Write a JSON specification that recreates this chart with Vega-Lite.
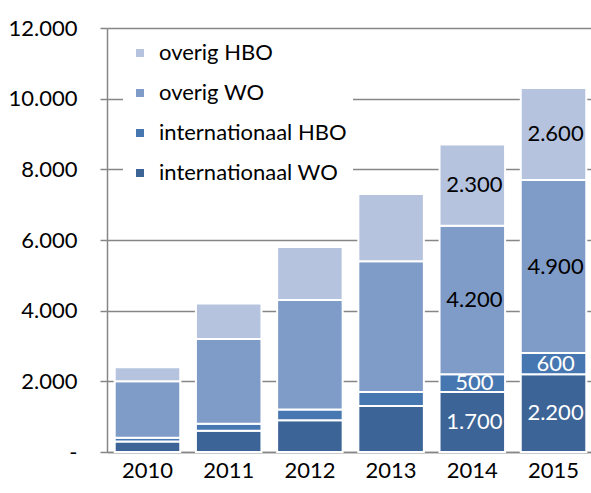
{
  "$schema": "https://vega.github.io/schema/vega-lite/v6.json",
  "width": 487,
  "height": 424,
  "autosize": {"type": "none"},
  "padding": {"left": 107, "top": 28, "right": 0, "bottom": 41},
  "config": {
    "locale": {"number": {"decimal": ",", "thousands": ".", "grouping": [3], "currency": ["€", ""]}},
    "view": {"stroke": null},
    "font": "Lato"
  },
  "data": {
    "values": [
      {"year": 2010, "series": "internationaal WO", "order": 1, "value": 300},
      {"year": 2010, "series": "internationaal HBO", "order": 2, "value": 100},
      {"year": 2010, "series": "overig WO", "order": 3, "value": 1600},
      {"year": 2010, "series": "overig HBO", "order": 4, "value": 400},
      {"year": 2011, "series": "internationaal WO", "order": 1, "value": 600},
      {"year": 2011, "series": "internationaal HBO", "order": 2, "value": 200},
      {"year": 2011, "series": "overig WO", "order": 3, "value": 2400},
      {"year": 2011, "series": "overig HBO", "order": 4, "value": 1000},
      {"year": 2012, "series": "internationaal WO", "order": 1, "value": 900},
      {"year": 2012, "series": "internationaal HBO", "order": 2, "value": 300},
      {"year": 2012, "series": "overig WO", "order": 3, "value": 3100},
      {"year": 2012, "series": "overig HBO", "order": 4, "value": 1500},
      {"year": 2013, "series": "internationaal WO", "order": 1, "value": 1300},
      {"year": 2013, "series": "internationaal HBO", "order": 2, "value": 400},
      {"year": 2013, "series": "overig WO", "order": 3, "value": 3700},
      {"year": 2013, "series": "overig HBO", "order": 4, "value": 1900},
      {"year": 2014, "series": "internationaal WO", "order": 1, "value": 1700},
      {"year": 2014, "series": "internationaal HBO", "order": 2, "value": 500},
      {"year": 2014, "series": "overig WO", "order": 3, "value": 4200},
      {"year": 2014, "series": "overig HBO", "order": 4, "value": 2300},
      {"year": 2015, "series": "internationaal WO", "order": 1, "value": 2200},
      {"year": 2015, "series": "internationaal HBO", "order": 2, "value": 600},
      {"year": 2015, "series": "overig WO", "order": 3, "value": 4900},
      {"year": 2015, "series": "overig HBO", "order": 4, "value": 2600}
    ]
  },
  "transform": [
    {"stack": "value", "groupby": ["year"], "sort": [{"field": "order"}], "as": ["v0", "v1"]},
    {"calculate": "(datum.v0 + datum.v1) / 2", "as": "mid"}
  ],
  "layer": [
    {
      "mark": {"type": "bar", "stroke": "white", "strokeWidth": 2},
      "encoding": {
        "x": {
          "field": "year", "type": "ordinal",
          "scale": {"paddingInner": 0.193, "paddingOuter": 0.095},
          "axis": {"title": null, "labelAngle": 0, "ticks": false, "domainColor": "#868686", "domainWidth": 1.5, "labelFontSize": 22, "labelColor": "black", "labelPadding": 8}
        },
        "y": {
          "field": "v1", "type": "quantitative",
          "scale": {"domain": [0, 12000], "nice": false},
          "axis": {
            "title": null,
            "values": [0, 2000, 4000, 6000, 8000, 10000, 12000],
            "labelExpr": "datum.value === 0 ? '-\u00a0\u00a0\u00a0\u00a0\u00a0' : datum.label",
            "format": ",d",
            "grid": true, "gridColor": "#868686", "gridWidth": 1.5,
            "domainColor": "#868686", "domainWidth": 1.5,
            "tickColor": "#868686", "tickWidth": 1.5, "tickSize": 7,
            "labelFontSize": 22, "labelColor": "black", "labelPadding": 23
          }
        },
        "y2": {"field": "v0"},
        "color": {
          "field": "series", "type": "nominal",
          "scale": {
            "domain": ["overig HBO", "overig WO", "internationaal HBO", "internationaal WO"],
            "range": ["#B5C3DF", "#7F9BC7", "#4777B1", "#3D6496"]
          },
          "legend": {
            "title": null, "orient": "none", "legendX": 16, "legendY": 8,
            "padding": 6, "fillColor": "white", "strokeColor": null,
            "symbolType": "square", "symbolSize": 64, "symbolStrokeWidth": 0,
            "labelFontSize": 22, "labelColor": "black", "labelOffset": 8,
            "labelLimit": 400, "rowPadding": 18
          }
        }
      }
    },
    {
      "transform": [{"filter": "datum.year >= 2014"}],
      "mark": {"type": "text", "fontSize": 22, "dx": 2},
      "encoding": {
        "x": {"field": "year", "type": "ordinal"},
        "y": {"field": "mid", "type": "quantitative"},
        "text": {"field": "value", "type": "quantitative", "format": ",d"},
        "color": {"condition": {"test": "datum.order <= 2", "value": "white"}, "value": "black"}
      }
    }
  ]
}
